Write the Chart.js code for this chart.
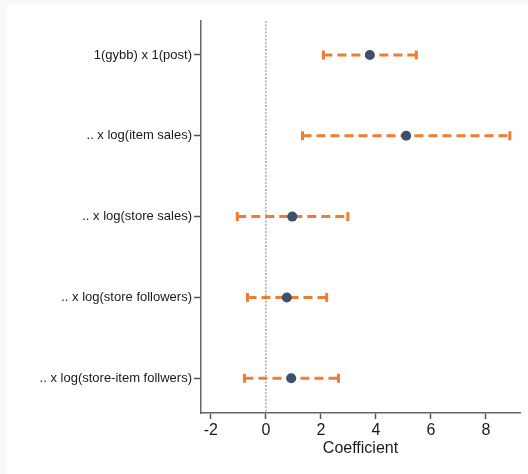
<!DOCTYPE html>
<html>
<head>
<meta charset="utf-8">
<script src="https://cdn.jsdelivr.net/npm/chart.js@4/dist/chart.umd.min.js"></script>
<style>
  html, body { margin: 0; padding: 0; background: #f8f8f8; width: 528px; height: 474px; overflow: hidden; }
  #wrap { position: absolute; left: 7px; top: 4px; width: 521px; height: 470px; background: #ffffff; }
  canvas { display: block; }
</style>
</head>
<body>
<div id="wrap"><canvas id="c" width="521" height="470"></canvas></div>
<script>
// Regression terms, point estimates and confidence bounds
const terms = [
  "1(gybb) x 1(post)",
  ".. x log(item sales)",
  ".. x log(store sales)",
  ".. x log(store followers)",
  ".. x log(store-item follwers)"
];
const estimates = [3.78, 5.10, 0.96, 0.76, 0.92];
const lowerCI   = [2.09, 1.33, -1.04, -0.67, -0.78];
const upperCI   = [5.47, 8.87, 2.98, 2.21, 2.64];
const xTicks    = [-2, 0, 2, 4, 6, 8];

const orange = "#ed7d31";
const navy = "#3d4f6b";
const font = "'Liberation Sans', Arial, Helvetica, sans-serif";

const yMin = 0.58, yMax = 5.43;

const datasets = [];

// dotted reference line at zero
datasets.push({
  type: "line",
  data: [{x: 0, y: yMin}, {x: 0, y: yMax}],
  borderColor: "#a8a8a8",
  borderWidth: 1.5,
  borderDash: [2, 1.5],
  pointRadius: 0,
  order: 3
});

// dashed confidence intervals with end caps
terms.forEach((t, i) => {
  datasets.push({
    type: "line",
    data: [{x: lowerCI[i], y: i + 1}, {x: upperCI[i], y: i + 1}],
    borderColor: orange,
    borderWidth: 3,
    borderDash: [9, 5],
    borderCapStyle: "butt",
    pointStyle: "line",
    rotation: 90,
    pointRadius: 4.5,
    pointBorderWidth: 3,
    pointBorderColor: orange,
    pointBackgroundColor: orange,
    order: 2
  });
});

// point estimates
datasets.push({
  type: "scatter",
  data: estimates.map((v, i) => ({x: v, y: i + 1})),
  pointRadius: 5,
  pointBackgroundColor: navy,
  pointBorderColor: navy,
  pointBorderWidth: 0,
  order: 1
});

new Chart(document.getElementById("c"), {
  type: "scatter",
  data: { datasets },
  options: {
    responsive: false,
    animation: false,
    events: [],
    layout: { padding: { top: 17, right: 8, left: 0, bottom: 16 } },
    plugins: { legend: { display: false }, tooltip: { enabled: false } },
    scales: {
      x: {
        type: "linear",
        min: -2.36,
        max: 9.24,
        afterBuildTicks: (s) => { s.ticks = xTicks.map(v => ({value: v})); },
        afterFit: (s) => { s.height = 45; },
        grid: {
          drawOnChartArea: false,
          drawTicks: true,
          tickLength: 6,
          tickColor: "#555",
          tickWidth: 1.5
        },
        border: { color: "#666", width: 1.5 },
        ticks: {
          color: "#1a1a1a",
          font: { family: font, size: 16 },
          padding: 2,
          maxRotation: 0
        },
        title: {
          display: true,
          text: "Coefficient",
          color: "#1a1a1a",
          font: { family: font, size: 16 },
          padding: { top: 0, bottom: 0 }
        }
      },
      y: {
        type: "linear",
        reverse: true,
        min: yMin,
        max: yMax,
        afterBuildTicks: (s) => { s.ticks = terms.map((t, i) => ({value: i + 1})); },
        afterFit: (s) => { s.width = 194; },
        grid: {
          drawOnChartArea: false,
          drawTicks: true,
          tickLength: 7,
          tickColor: "#555",
          tickWidth: 1.5
        },
        border: { color: "#666", width: 1.5 },
        ticks: {
          color: "#1a1a1a",
          font: { family: font, size: 13 },
          padding: 2,
          callback: (v) => terms[Math.round(v) - 1]
        }
      }
    }
  }
});
</script>
</body>
</html>
